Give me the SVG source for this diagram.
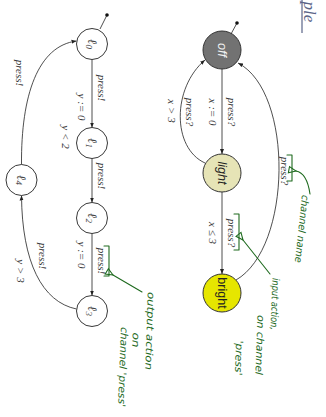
<svg xmlns="http://www.w3.org/2000/svg" width="326" height="417" viewBox="0 0 326 417">
  <style>
    .loc { fill: #ffffff; stroke: #222222; stroke-width: 0.9; }
    .edge { fill: none; stroke: #222222; stroke-width: 0.8; }
    .lbl { font-family: "Liberation Serif", serif; font-style: italic; font-size: 11px; fill: #3a3a3a; text-anchor: middle; dominant-baseline: central; }
    .lname { font-family: "Liberation Serif", serif; font-style: italic; font-size: 13px; fill: #444444; text-anchor: middle; dominant-baseline: central; }
    .sname { font-family: "Liberation Sans", sans-serif; font-size: 12.5px; text-anchor: middle; dominant-baseline: central; }
    .note { fill: none; stroke: #1e6a1e; stroke-width: 1.1; stroke-linecap: round; stroke-linejoin: round; }
    .hand { font-family: "DejaVu Sans", sans-serif; font-style: italic; font-size: 10px; fill: #1e6a1e; text-anchor: middle; dominant-baseline: central; }
  </style>
  <defs>
    <marker id="arr" viewBox="0 0 10 10" refX="10" refY="5" markerWidth="5" markerHeight="5" orient="auto" markerUnits="userSpaceOnUse">
      <path d="M0,1 L10,5 L0,9 z" fill="#222222"/>
    </marker>
    <marker id="open" viewBox="0 0 10 10" refX="1" refY="5" markerWidth="9" markerHeight="9" orient="auto-start-reverse" markerUnits="userSpaceOnUse">
      <path d="M1,5 L9,1.5 L9,8.5 z" fill="none" stroke="#1e6a1e" stroke-width="1.2"/>
    </marker>
  </defs>

  <!-- title fragment -->
  <g id="title">
    <line x1="302" y1="0" x2="302" y2="33" stroke="#5a6488" stroke-width="1.2"/>
    <text x="309" y="12" transform="rotate(90 309 12)" font-family="Liberation Serif, serif" font-style="italic" font-size="17px" fill="#5a6488" text-anchor="middle" dominant-baseline="central">ple</text>
  </g>

  <!-- connectors -->
  <g id="connectors">
    <!-- initial markers -->
    <line class="edge" x1="107" y1="15" x2="100" y2="29"/>
    <circle cx="107" cy="15" r="1.8" fill="#111"/>
    <line class="edge" x1="237" y1="23" x2="231" y2="34"/>
    <circle cx="237" cy="23" r="1.8" fill="#111"/>

    <!-- left automaton -->
    <line class="edge" x1="92" y1="59.5" x2="92" y2="127.5" marker-end="url(#arr)"/>
    <line class="edge" x1="92" y1="158.5" x2="92" y2="202.5" marker-end="url(#arr)"/>
    <line class="edge" x1="92" y1="233.5" x2="92" y2="295.5" marker-end="url(#arr)"/>
    <path class="edge" d="M76.5,309 C42,302 22,262 21.5,195.5" marker-end="url(#arr)"/>
    <path class="edge" d="M21.5,164.5 C21,95 38,46 76.5,41" marker-end="url(#arr)"/>

    <!-- right automaton -->
    <line class="edge" x1="222" y1="69" x2="222" y2="154" marker-end="url(#arr)"/>
    <line class="edge" x1="222" y1="192" x2="222" y2="274" marker-end="url(#arr)"/>
    <path class="edge" d="M205,163 C172,148 172,88 205,60" marker-end="url(#arr)"/>
    <path class="edge" d="M236,280 C292,248 294,92 238,63" marker-end="url(#arr)"/>

    <!-- edge labels -->
    <text class="lbl" x="102" y="88" transform="rotate(90 102 88)">press!</text>
    <text class="lbl" x="82" y="107" transform="rotate(90 82 107)">y := 0</text>
    <text class="lbl" x="66" y="137" transform="rotate(90 66 137)">y &lt; 2</text>
    <text class="lbl" x="102" y="176" transform="rotate(90 102 176)">press!</text>
    <text class="lbl" x="102" y="261" transform="rotate(90 102 261)">press!</text>
    <text class="lbl" x="82" y="255" transform="rotate(90 82 255)">y := 0</text>
    <text class="lbl" x="43" y="256" transform="rotate(90 43 256)">press!</text>
    <text class="lbl" x="21" y="271" transform="rotate(90 21 271)">y &gt; 3</text>
    <text class="lbl" x="20" y="73" transform="rotate(90 20 73)">press!</text>

    <text class="lbl" x="232" y="112" transform="rotate(90 232 112)">press?</text>
    <text class="lbl" x="213" y="112" transform="rotate(90 213 112)">x := 0</text>
    <text class="lbl" x="190" y="112" transform="rotate(90 190 112)">press?</text>
    <text class="lbl" x="172" y="111" transform="rotate(90 172 111)">x &gt; 3</text>
    <text class="lbl" x="232" y="233" transform="rotate(90 232 233)">press?</text>
    <text class="lbl" x="213" y="233" transform="rotate(90 213 233)">x ≤ 3</text>
    <text class="lbl" x="285" y="171" transform="rotate(90 285 171)">press?</text>
  </g>

  <!-- left automaton locations -->
  <g id="l0">
    <circle class="loc" cx="92" cy="44" r="15.5"/>
    <text class="lname" x="92" y="44" transform="rotate(90 92 44)">ℓ<tspan font-size="9px" dy="3">0</tspan></text>
  </g>
  <g id="l1">
    <circle class="loc" cx="92" cy="143" r="15.5"/>
    <text class="lname" x="92" y="143" transform="rotate(90 92 143)">ℓ<tspan font-size="9px" dy="3">1</tspan></text>
  </g>
  <g id="l2">
    <circle class="loc" cx="92" cy="218" r="15.5"/>
    <text class="lname" x="92" y="218" transform="rotate(90 92 218)">ℓ<tspan font-size="9px" dy="3">2</tspan></text>
  </g>
  <g id="l3">
    <circle class="loc" cx="92" cy="311" r="15.5"/>
    <text class="lname" x="92" y="311" transform="rotate(90 92 311)">ℓ<tspan font-size="9px" dy="3">3</tspan></text>
  </g>
  <g id="l4">
    <circle class="loc" cx="21.5" cy="180" r="15.5"/>
    <text class="lname" x="21.5" y="180" transform="rotate(90 21.5 180)">ℓ<tspan font-size="9px" dy="3">4</tspan></text>
  </g>

  <!-- right automaton locations -->
  <g id="off">
    <circle cx="222" cy="50" r="19" fill="#727272" stroke="#333" stroke-width="1"/>
    <text class="sname" x="222" y="50" transform="rotate(90 222 50)" font-style="italic" fill="#f2f2f2">off</text>
  </g>
  <g id="light">
    <circle cx="222" cy="173" r="19" fill="#e6e4b6" stroke="#333" stroke-width="1"/>
    <text class="sname" x="222" y="173" transform="rotate(90 222 173)" font-style="italic" fill="#222">light</text>
  </g>
  <g id="bright">
    <circle cx="222" cy="293" r="19" fill="#e6e600" stroke="#333" stroke-width="1"/>
    <text class="sname" x="222" y="293" transform="rotate(90 222 293)" fill="#222">bright</text>
  </g>

  <!-- handwritten notes -->
  <g id="note-channel">
    <path class="note" d="M287,155 L292,155 L292,181 L287,181"/>
    <path class="note" d="M296,171 Q307,173 310,194" marker-start="url(#open)"/>
    <text class="hand" x="302" y="229" transform="rotate(96 302 229)" textLength="68" lengthAdjust="spacingAndGlyphs">channel name</text>
  </g>
  <g id="note-input">
    <path class="note" d="M234,214 L239,214 L239,250 L234,250"/>
    <path class="note" d="M243,240 L270,274" marker-start="url(#open)"/>
    <text class="hand" x="275" y="304" transform="rotate(92 275 304)" textLength="52" lengthAdjust="spacingAndGlyphs">input action,</text>
    <text class="hand" x="260" y="345" transform="rotate(92 260 345)" textLength="60" lengthAdjust="spacingAndGlyphs">on channel</text>
    <text class="hand" x="239" y="358" transform="rotate(92 239 358)" textLength="35" lengthAdjust="spacingAndGlyphs">'press'</text>
  </g>
  <g id="note-output">
    <path class="note" d="M104,246 L109,246 L109,276 L104,276"/>
    <path class="note" d="M113,275 L142,292" marker-start="url(#open)"/>
    <text class="hand" x="150" y="331" transform="rotate(92 150 331)" textLength="78" lengthAdjust="spacingAndGlyphs">output action</text>
    <text class="hand" x="136" y="340" transform="rotate(92 136 340)" textLength="15" lengthAdjust="spacingAndGlyphs">on</text>
    <text class="hand" x="123" y="367" transform="rotate(92 123 367)" textLength="80" lengthAdjust="spacingAndGlyphs">channel 'press'</text>
  </g>
</svg>
